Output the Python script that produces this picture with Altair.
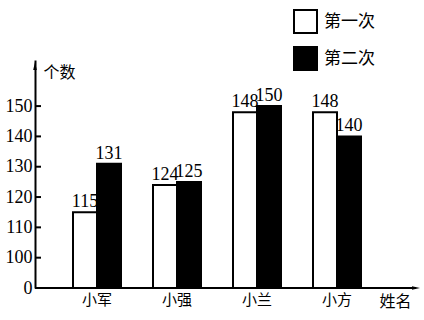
import altair as alt
import pandas as pd

names = ["小军", "小强", "小兰", "小方"]
series = ["第一次", "第二次"]
first = [115, 124, 148, 148]
second = [131, 125, 150, 140]
y_ticks = [0, 100, 110, 120, 130, 140, 150]

rows = []
for i, n in enumerate(names):
    rows.append({"name": n, "series": series[0], "v": first[i]})
    rows.append({"name": n, "series": series[1], "v": second[i]})
df = pd.DataFrame(rows)
tick_df = pd.DataFrame({"tick": y_ticks})

W, H = 385, 228
D = 75.2
SHIFT = 90  # broken axis: 0 at bottom, 100.. shown as value - 90
CJK = "Noto Sans CJK SC"
SERIF = "Liberation Serif"

tvals = [0 if v == 0 else v - SHIFT for v in y_ticks]
ysc = alt.Scale(domain=[0, D], nice=False, zero=True)
yaxis = alt.Axis(
    values=tvals,
    labelExpr=f"datum.value == 0 ? '0' : format(datum.value + {SHIFT}, 'd')",
    ticks=False, grid=False, domain=True, domainColor="black", domainWidth=2,
    labelFont=SERIF, labelFontSize=18, labelColor="black", labelPadding=3,
    labelBaseline="middle", zindex=1,
    title="个数", titleAngle=0, titleX=24, titleY=12, titleFont=CJK,
    titleFontSize=16, titleFontWeight="normal", titleColor="black",
    titleAlign="center", titleBaseline="middle",
)
xsc = alt.Scale(domain=names, range=[0, 364], paddingInner=0.4, paddingOuter=0.475)
xaxis = alt.Axis(
    ticks=False, domain=False, grid=False, labelAngle=0,
    labelFont=CJK, labelFontSize=15, labelColor="black", labelPadding=4,
    title="姓名", titleX=360, titleY=13, titleFont=CJK, titleFontSize=16,
    titleFontWeight="normal", titleColor="black", titleAlign="center",
    titleBaseline="middle",
)
X = alt.X("name:N", scale=xsc, sort=names, axis=xaxis)
XO = alt.XOffset("series:N", scale=alt.Scale(domain=series, paddingInner=0, paddingOuter=0))
Y = alt.Y("t:Q", scale=ysc, axis=yaxis)

base = alt.Chart(df).transform_calculate(t=f"datum.v - {SHIFT}")

bars = base.mark_bar(stroke="black", strokeWidth=2).encode(
    x=X, xOffset=XO, y=Y,
    fill=alt.Fill("series:N", scale=alt.Scale(domain=series, range=["white", "black"]),
                  legend=alt.Legend(title=None, orient="none", legendX=258, legendY=-51,
                                    symbolType="square", symbolSize=529,
                                    symbolStrokeColor="black", symbolStrokeWidth=2,
                                    labelFont=CJK, labelFontSize=17, labelColor="black",
                                    labelOffset=6, rowPadding=6)),
)

labels = base.mark_text(baseline="bottom", dy=-1, font=SERIF, fontSize=18, color="black").encode(
    x=X, xOffset=XO, y=Y, text="v:Q"
)

ticks = alt.Chart(tick_df).transform_filter("datum.tick > 0").transform_calculate(
    t=f"datum.tick - {SHIFT}"
).mark_rule(color="black", strokeWidth=2).encode(
    x=alt.value(0), x2=alt.value(6), y=Y
)

deco = pd.DataFrame({"a": [0]})
xline = alt.Chart(deco).mark_rule(color="black", strokeWidth=2).encode(
    x=alt.value(0), x2=alt.value(W - 4), y=alt.value(H)
)
yarrow = alt.Chart(deco).mark_point(
    shape="M0,-1L0.45,1L-0.45,1Z", filled=True, color="black", opacity=1, size=64
).encode(x=alt.value(0), y=alt.value(6))
xarrow = alt.Chart(deco).mark_point(
    shape="M1,0L-1,0.45L-1,-0.45Z", filled=True, color="black", opacity=1, size=64
).encode(x=alt.value(W - 4), y=alt.value(H))

chart = alt.layer(bars, labels, ticks, xline, yarrow, xarrow).properties(
    width=W, height=H,
    autosize=alt.AutoSizeParams(type="none"),
    padding={"left": 35, "top": 60, "right": 4, "bottom": 32},
    background="white",
).configure(font=CJK, view=alt.ViewConfig(stroke="white", strokeWidth=2))

chart.save("out.html", embed_options={"renderer": "svg", "actions": False})
